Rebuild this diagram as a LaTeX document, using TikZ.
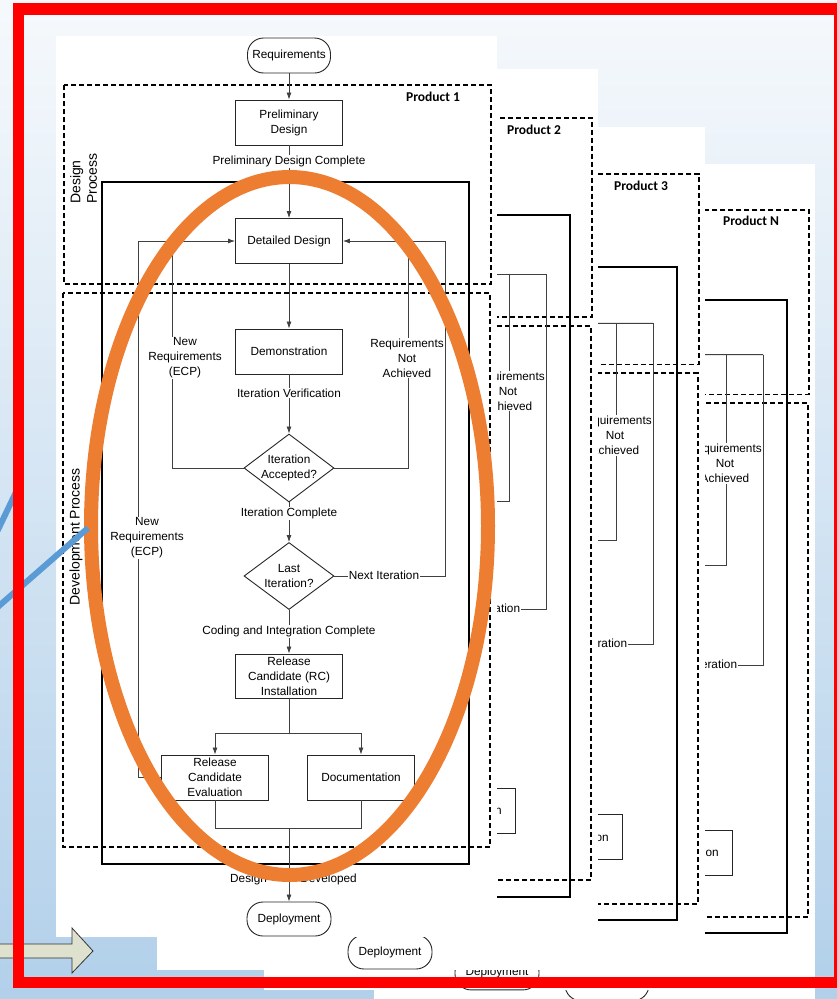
\documentclass[tikz,border=0pt]{standalone}
\usepackage{fontspec}
\setmainfont{Liberation Sans}
\newfontfamily\prodfont{Carlito}
\usetikzlibrary{arrows.meta,shapes.geometric}

\definecolor{slidetop}{RGB}{246,249,252}
\definecolor{slidebot}{RGB}{178,208,234}
\definecolor{framered}{RGB}{255,0,0}
\definecolor{ovalorange}{RGB}{237,125,49}
\definecolor{pointblue}{RGB}{91,155,213}
\definecolor{arrowbeige}{RGB}{221,225,205}

\newcommand\flowfont{\fontsize{11.8}{15}\selectfont}

\tikzset{
	flowbox/.style={draw=black!85, line width=0.9pt, fill=white, minimum width=107pt, minimum height=45pt, inner sep=1pt, align=center, font=\flowfont},
	termbox/.style={draw=black!85, line width=0.9pt, fill=white, rounded corners=16pt, minimum width=83pt, minimum height=35pt, inner sep=1pt, font=\flowfont},
	decision/.style={diamond, draw=black!85, line width=0.9pt, fill=white, minimum width=90pt, minimum height=68pt, inner sep=0pt},
	flowlabel/.style={fill=white, inner sep=1pt, align=center, font=\flowfont},
	plainlabel/.style={inner sep=0pt, align=center, font=\flowfont},
	flowline/.style={draw=black!75, line width=0.8pt},
	flowarrow/.style={flowline, -{Latex[length=7pt,width=5pt]}},
	prodbox/.style={draw=black, line width=1.5pt, dash pattern=on 5pt off 3pt},
	loopbox/.style={draw=black, line width=2pt},
	prodlabel/.style={inner sep=0pt, font=\prodfont\bfseries\fontsize{13.5}{15}\selectfont},
	sidelabel/.style={rotate=90, align=left, inner sep=0pt, font=\fontsize{14}{16.5}\selectfont}
}

% one product sheet, #1 = name prefix, #2 = product title
\newcommand\productpage[2]{%
	\fill[white] (56,36) rectangle (497,937);
	
	\draw[prodbox] (64,85) rectangle (491,284);
	\draw[prodbox] (63,293) rectangle (490,847);
	\draw[loopbox] (102,182) rectangle (469,864);
	\node[prodlabel] (#1title) at (433,97) {#2};
	\node[sidelabel, anchor=north west] (#1dsp) at (70,204) {Design\\Process};
	\node[sidelabel] (#1dvp) at (76,537) {Development Process};
	
	\node[termbox] (#1req) at (289,55.5) {Requirements};
	\node[flowbox] (#1pre) at (289,122.5) {Preliminary\\Design};
	\node[flowbox] (#1det) at (289,241) {Detailed Design};
	\node[flowbox] (#1demo) at (289,351.5) {Demonstration};
	\node[decision] (#1acc) at (289,468) {};
	\node[plainlabel] (#1acct) at (289,467.5) {Iteration\\Accepted?};
	\node[decision, minimum height=67pt] (#1last) at (289,576) {};
	\node[plainlabel] (#1lastt) at (289,575.5) {Last\\Iteration?};
	\node[flowbox, minimum height=44pt] (#1rci) at (289,676) {Release\\Candidate (RC)\\Installation};
	\node[flowbox] (#1rce) at (215,777.5) {Release\\Candidate\\Evaluation};
	\node[flowbox] (#1doc) at (361,777.5) {Documentation};
	\node[termbox, minimum width=84pt, minimum height=34pt] (#1dep) at (289,919) {Deployment};
	
	\coordinate (#1split) at (289,733);
	\coordinate (#1join) at (289,828);
	\coordinate (#1fbl) at (172,241);
	\coordinate (#1fbo) at (138,241);
	\coordinate (#1fbr) at (408,241);
	\coordinate (#1fbro) at (445,241);
	
	\draw[flowarrow] (#1req) -- (#1pre);
	\draw[flowarrow] (#1pre) -- (#1det);
	\draw[flowarrow] (#1det) -- (#1demo);
	\draw[flowarrow] (#1demo) -- (#1acc);
	\draw[flowarrow] (#1acc) -- (#1last);
	\draw[flowarrow] (#1last) -- (#1rci);
	\draw[flowline] (#1rci) -- (#1split);
	\draw[flowarrow] (#1split) -| (#1rce);
	\draw[flowarrow] (#1split) -| (#1doc);
	\draw[flowline] (#1rce) |- (#1join) -| (#1doc);
	\draw[flowarrow] (#1join) -- (#1dep);
	
	% loops back to detailed design
	\draw[flowline] (#1acc.west) -| (#1fbl);
	\draw[flowline] (#1rce.west) -| (#1fbo);
	\draw[flowarrow] (#1fbo) -- (#1det);
	\draw[flowline] (#1acc.east) -| (#1fbr);
	\draw[flowline] (#1last.east) -| (#1fbro);
	\draw[flowarrow] (#1fbro) -- (#1det);
	
	\node[flowlabel] (#1pdc) at (289,161) {Preliminary Design Complete};
	\node[flowlabel] (#1ivf) at (289,393) {Iteration Verification};
	\node[flowlabel] (#1icp) at (289,513) {Iteration Complete};
	\node[flowlabel] (#1cic) at (289,631) {Coding and Integration Complete};
	\node[plainlabel, anchor=west] (#1ddl) at (230,879) {Design};
	\node[plainlabel, anchor=east] (#1ddr) at (357,879) {Developed};
	\node[flowlabel] (#1nra) at (185,358) {New\\Requirements\\(ECP)};
	\node[flowlabel] (#1rna) at (407,358) {Requirements\\Not\\Achieved};
	\node[flowlabel] (#1nrb) at (147,538) {New\\Requirements\\(ECP)};
	\node[flowlabel] (#1nxt) at (384,575) {Next Iteration};
}

\begin{document}
\begin{tikzpicture}[x=1pt, y=-1pt]
	%%%%% START %%%%%
	\useasboundingbox (0,0) rectangle (837,999);
	\clip (0,0) rectangle (837,999);
	
	\shade[top color=slidetop, bottom color=slidebot] (0,0) rectangle (837,999);
	
	% stacked product sheets, back to front
	\begin{scope}[shift={(318,131)}, yscale=0.928]
		\productpage{pn}{Product N}
	\end{scope}
	\begin{scope}[shift={(208,92.5)}, yscale=0.958]
		\productpage{pc}{Product 3}
	\end{scope}
	\begin{scope}[shift={(101,33)}]
		\productpage{pb}{Product 2}
	\end{scope}
	\productpage{pa}{Product 1}
	
	\draw[fill=arrowbeige, draw=black!80, line width=0.8pt] (-5,944) -- (72,944) -- (72,928) -- (93,951) -- (72,973) -- (72,958) -- (-5,958) -- cycle;
	
	\draw[ovalorange, line width=14pt] (289.5,526) ellipse [x radius=198.5pt, y radius=349pt];
	
	\draw[pointblue, line width=6pt] (-5,609.4) -- (88,528);
	\draw[pointblue, line width=6pt] (-5,536) -- (17,490);
	
	\draw[framered, line width=11.5pt] (18.4,9) rectangle (839.5,982.5);
	%%%%% END %%%%%
\end{tikzpicture}
\end{document}
